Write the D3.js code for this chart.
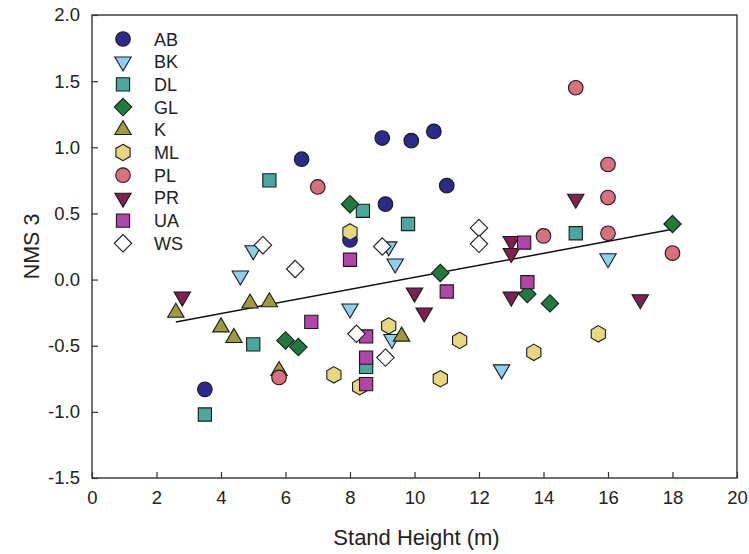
<!DOCTYPE html>
<html>
<head>
<meta charset="utf-8">
<script src="https://cdn.jsdelivr.net/npm/d3@7/dist/d3.min.js"></script>
<style>
  html, body { margin: 0; padding: 0; background: #fff; }
  svg { display: block; font-family: "Liberation Sans", Arial, sans-serif; }
</style>
</head>
<body>
<svg id="chart" width="749" height="554"></svg>
<script>
// Site groups, in legend order
const groups = ["AB", "BK", "DL", "GL", "K", "ML", "PL", "PR", "UA", "WS"];
const shapes = ["circle", "triDown", "square", "diamond", "triUp", "hexagon", "circle", "triDown", "square", "diamond"];
const fills  = ["#2c2a8d", "#8ccfee", "#48a99c", "#1e7b3d", "#9d9b3c", "#e9d77f", "#d8707d", "#7c2150", "#b145a8", "#ffffff"];

// Stand height (m) and NMS axis 3 score for each group
const xAB = [3.5, 6.5, 8.0, 9.0, 9.9, 10.6, 9.1, 11.0];
const yAB = [-0.83, 0.91, 0.30, 1.07, 1.05, 1.12, 0.57, 0.71];
const xBK = [4.6, 5.0, 8.0, 9.2, 9.4, 9.3, 12.7, 16.0];
const yBK = [0.03, 0.22, -0.22, 0.25, 0.12, -0.45, -0.68, 0.16];
const xDL = [5.5, 8.4, 9.8, 5.0, 3.5, 8.5, 15.0];
const yDL = [0.75, 0.52, 0.42, -0.49, -1.02, -0.66, 0.35];
const xGL = [8.0, 10.8, 6.0, 6.4, 13.5, 14.2, 18.0];
const yGL = [0.57, 0.05, -0.46, -0.51, -0.11, -0.18, 0.42];
const xK  = [2.6, 4.0, 4.4, 4.9, 5.5, 5.8, 9.6];
const yK  = [-0.25, -0.36, -0.44, -0.18, -0.17, -0.69, -0.43];
const xML = [8.0, 9.2, 11.4, 7.5, 8.3, 10.8, 13.7, 15.7];
const yML = [0.36, -0.35, -0.46, -0.72, -0.81, -0.75, -0.55, -0.41];
const xPL = [5.8, 7.0, 15.0, 16.0, 16.0, 16.0, 14.0, 18.0];
const yPL = [-0.74, 0.70, 1.45, 0.87, 0.62, 0.35, 0.33, 0.20];
const xPR = [2.8, 10.0, 10.3, 13.0, 13.0, 13.0, 15.0, 17.0];
const yPR = [-0.13, -0.10, -0.25, -0.13, 0.29, 0.20, 0.61, -0.15];
const xUA = [8.0, 6.8, 8.5, 8.5, 8.5, 11.0, 13.4, 13.5];
const yUA = [0.15, -0.32, -0.43, -0.59, -0.79, -0.09, 0.28, -0.02];
const xWS = [5.3, 6.3, 9.0, 12.0, 12.0, 8.2, 9.1];
const yWS = [0.26, 0.08, 0.25, 0.39, 0.27, -0.41, -0.59];

const xValues = [xAB, xBK, xDL, xGL, xK, xML, xPL, xPR, xUA, xWS];
const yValues = [yAB, yBK, yDL, yGL, yK, yML, yPL, yPR, yUA, yWS];

// Fitted regression line end points
const fitX = [2.6, 18.0];
const fitY = [-0.32, 0.38];

// Axis ticks
const xTicks = [0, 2, 4, 6, 8, 10, 12, 14, 16, 18, 20];
const yTicks = [-1.5, -1.0, -0.5, 0.0, 0.5, 1.0, 1.5, 2.0];

const svg = d3.select("#chart");
const plotLeft = 92, plotRight = 737, plotTop = 15, plotBottom = 478;

const x = d3.scaleLinear().domain([0, 20]).range([plotLeft, plotRight]);
const y = d3.scaleLinear().domain([-1.5, 2.0]).range([plotBottom, plotTop]);

// Marker path generators, centred on the origin
function shapePath(type) {
  switch (type) {
    case "circle": {
      const r = 7.3;
      return `M${r},0A${r},${r},0,1,1,${-r},0A${r},${r},0,1,1,${r},0Z`;
    }
    case "square": {
      const s = 6.6;
      return `M${-s},${-s}H${s}V${s}H${-s}Z`;
    }
    case "diamond": {
      const d = 8.7;
      return `M0,${-d}L${d},0L0,${d}L${-d},0Z`;
    }
    case "triUp": {
      const w = 8.2, h = 14;
      return `M0,${-h * 2 / 3}L${w},${h / 3}L${-w},${h / 3}Z`;
    }
    case "triDown": {
      const w = 8.2, h = 14;
      return `M0,${h * 2 / 3}L${w},${-h / 3}L${-w},${-h / 3}Z`;
    }
    case "hexagon": {
      const r = 8.2;
      const pts = d3.range(6).map(i => {
        const a = Math.PI / 3 * i - Math.PI / 2;
        return [r * Math.cos(a), r * Math.sin(a)];
      });
      return "M" + pts.map(p => p[0].toFixed(2) + "," + p[1].toFixed(2)).join("L") + "Z";
    }
  }
}

// Frame
const axisColor = "#333";
svg.append("rect")
  .attr("x", plotLeft).attr("y", plotTop)
  .attr("width", plotRight - plotLeft).attr("height", plotBottom - plotTop)
  .attr("fill", "none").attr("stroke", axisColor).attr("stroke-width", 1.4);

// Y axis (ticks pointing inward), labels use a plain hyphen for negatives
const yAxis = d3.axisLeft(y).tickValues(yTicks).tickSize(-6).tickPadding(12)
  .tickFormat(d => d.toFixed(1));
const gy = svg.append("g").attr("transform", `translate(${plotLeft},0)`).call(yAxis);
gy.attr("font-size", null).attr("font-family", null);
gy.select(".domain").remove();
gy.selectAll("line").attr("stroke", axisColor).attr("stroke-width", 1.2);
gy.selectAll("text").style("font-size", "18.5px").attr("fill", "#222");

// X axis (ticks pointing inward)
const xAxis = d3.axisBottom(x).tickValues(xTicks).tickSize(-6).tickPadding(13)
  .tickFormat(d => String(d));
const gx = svg.append("g").attr("transform", `translate(0,${plotBottom})`).call(xAxis);
gx.attr("font-size", null).attr("font-family", null);
gx.select(".domain").remove();
gx.selectAll("line").attr("stroke", axisColor).attr("stroke-width", 1.2);
gx.selectAll("text").style("font-size", "18.5px").attr("fill", "#222");

// Axis titles
svg.append("text")
  .attr("x", (plotLeft + plotRight) / 2 + 2).attr("y", 545)
  .attr("text-anchor", "middle").style("font-size", "22px").attr("fill", "#222")
  .text("Stand Height (m)");
svg.append("text")
  .attr("transform", `translate(39,${(plotTop + plotBottom) / 2}) rotate(-90)`)
  .attr("text-anchor", "middle").style("font-size", "21.5px").attr("fill", "#222")
  .text("NMS 3");

// Regression line
svg.append("line")
  .attr("x1", x(fitX[0])).attr("y1", y(fitY[0]))
  .attr("x2", x(fitX[1])).attr("y2", y(fitY[1]))
  .attr("stroke", "#111").attr("stroke-width", 1.5);

// Points, one layer per group
groups.forEach((g, i) => {
  const pts = xValues[i].map((v, j) => ({ x: v, y: yValues[i][j] }));
  svg.append("g").attr("class", "group-" + g)
    .selectAll("path").data(pts).join("path")
    .attr("d", shapePath(shapes[i]))
    .attr("transform", d => `translate(${x(d.x)},${y(d.y)})`)
    .attr("fill", fills[i])
    .attr("stroke", "#1a1a1a").attr("stroke-width", 1.1);
});

// Legend
const legend = svg.append("g");
groups.forEach((g, i) => {
  const row = legend.append("g").attr("transform", `translate(123,${39 + i * 22.7})`);
  row.append("path").attr("d", shapePath(shapes[i]))
    .attr("fill", fills[i]).attr("stroke", "#1a1a1a").attr("stroke-width", 1.1);
  row.append("text").attr("x", 31).attr("y", 6.5)
    .style("font-size", "18px").attr("fill", "#222").text(g);
});
</script>
</body>
</html>
